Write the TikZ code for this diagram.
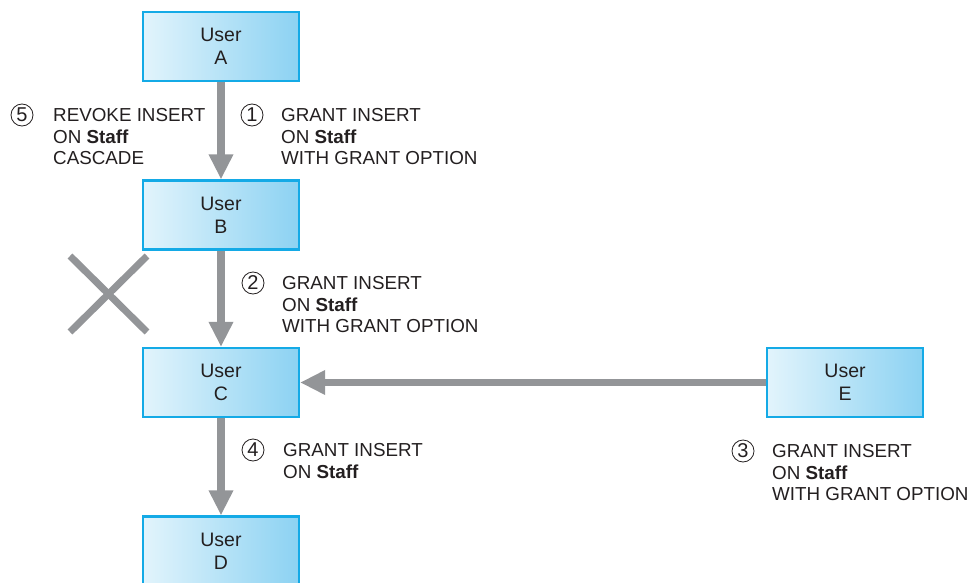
\documentclass[tikz,border=0pt]{standalone}
\usepackage{fontspec}
\setmainfont{Liberation Sans}
\usetikzlibrary{arrows.meta}
\definecolor{arrgray}{RGB}{147,149,152}
\definecolor{boxedge}{RGB}{20,170,230}
\definecolor{boxleft}{RGB}{226,244,252}
\definecolor{boxright}{RGB}{140,210,242}
\definecolor{txt}{RGB}{35,31,32}
\begin{document}
\begin{tikzpicture}[x=1pt,y=-1pt,
  userbox/.style={draw=boxedge, line width=2.2pt, left color=boxleft, right color=boxright,
    minimum width=156pt, minimum height=69pt, inner sep=0pt, align=center,
    font=\fontsize{19.5}{23}\selectfont, text=txt},
  arr/.style={draw=arrgray, line width=7.5pt, -{Triangle[width=23pt,length=25pt]}},
  xline/.style={draw=arrgray, line width=7pt},
  num/.style={draw=txt, circle, line width=0.8pt, minimum size=22pt, inner sep=0pt,
    font=\fontsize{20}{20}\selectfont, text=txt},
  lbl/.style={anchor=north west, inner sep=0pt, align=left,
    font=\fontsize{18.8}{21.8}\selectfont, text=txt}]
\useasboundingbox (0,0) rectangle (971,583);
\node[userbox] (A) at (221,46.5) {User\\A};
\node[userbox] (B) at (221,215) {User\\B};
\node[userbox] (C) at (221,382.5) {User\\C};
\node[userbox] (D) at (221,551) {User\\D};
\node[userbox] (E) at (845,382.5) {User\\E};
\draw[arr] (A) -- (B);
\draw[arr] (B) -- (C);
\draw[arr] (C) -- (D);
\draw[arr] (E) -- (C);
\coordinate (x1) at (70,256);
\coordinate (x2) at (147,332);
\coordinate (x3) at (147,256);
\coordinate (x4) at (70,332);
\draw[xline] (x1) -- (x2);
\draw[xline] (x3) -- (x4);
% labels
\node[num] (n5) at (22,115) {5};
\node[lbl] (l5) at (53,108) {REVOKE INSERT\\ON \textbf{Staff}\\CASCADE};
\node[num] (n1) at (252,115) {1};
\node[lbl] (l1) at (281,108) {GRANT INSERT\\ON \textbf{Staff}\\WITH GRANT OPTION};
\node[num] (n2) at (253,283) {2};
\node[lbl] (l2) at (282,276) {GRANT INSERT\\ON \textbf{Staff}\\WITH GRANT OPTION};
\node[num] (n4) at (253,450) {4};
\node[lbl] (l4) at (283,443) {GRANT INSERT\\ON \textbf{Staff}};
\node[num] (n3) at (743,451) {3};
\node[lbl] (l3) at (772,444) {GRANT INSERT\\ON \textbf{Staff}\\WITH GRANT OPTION};
\end{tikzpicture}
\end{document}
